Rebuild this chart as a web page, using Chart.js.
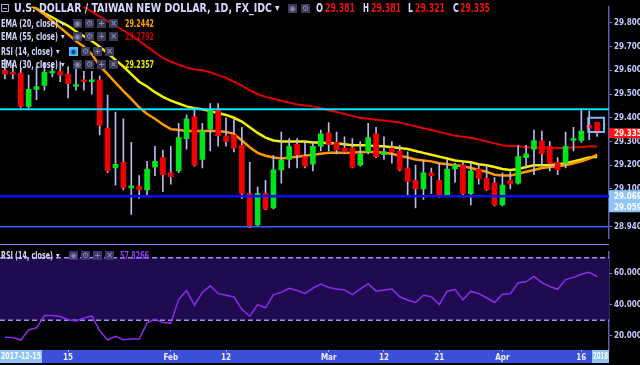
<!DOCTYPE html>
<html><head><meta charset="utf-8">
<script src="https://cdn.jsdelivr.net/npm/chart.js@4.4.1/dist/chart.umd.min.js"></script>
<style>
html,body{margin:0;padding:0;background:#000;width:640px;height:365px;overflow:hidden;position:relative;}
canvas{position:absolute;left:0;}
#c1{top:0;width:640px;height:245px;}
#c2{top:245px;width:640px;height:120px;}
.t{position:absolute;white-space:nowrap;transform-origin:0 50%;font-family:"DejaVu Sans Condensed","DejaVu Sans",sans-serif;}
.ic{position:absolute;width:9px;height:9px;font:bold 8px "DejaVu Sans",sans-serif;line-height:9px;text-align:center;}
</style></head><body>
<canvas id="c1" width="640" height="245"></canvas>
<canvas id="c2" width="640" height="120"></canvas>
<script>
// ---------- data ----------
const dates = ['2018-01-03','2018-01-04','2018-01-05','2018-01-08','2018-01-09','2018-01-10','2018-01-11','2018-01-12','2018-01-15','2018-01-16',
'2018-01-17','2018-01-18','2018-01-19','2018-01-22','2018-01-23','2018-01-24','2018-01-25','2018-01-26','2018-01-29','2018-01-30',
'2018-01-31','2018-02-01','2018-02-02','2018-02-05','2018-02-06','2018-02-07','2018-02-08','2018-02-09','2018-02-12','2018-02-13',
'2018-02-14','2018-02-15','2018-02-16','2018-02-19','2018-02-20','2018-02-21','2018-02-22','2018-02-23','2018-02-26','2018-02-27',
'2018-02-28','2018-03-01','2018-03-02','2018-03-05','2018-03-06','2018-03-07','2018-03-08','2018-03-09','2018-03-12','2018-03-13',
'2018-03-14','2018-03-15','2018-03-16','2018-03-19','2018-03-20','2018-03-21','2018-03-22','2018-03-23','2018-03-26','2018-03-27',
'2018-03-28','2018-03-29','2018-03-30','2018-04-02','2018-04-03','2018-04-04','2018-04-05','2018-04-06','2018-04-09','2018-04-10',
'2018-04-11','2018-04-12','2018-04-13','2018-04-16','2018-04-17','2018-04-18'];

const open = [29.600,29.592,29.588,29.448,29.520,29.536,29.588,29.596,29.584,29.532,
29.560,29.552,29.560,29.356,29.188,29.212,29.104,29.112,29.096,29.192,
29.232,29.168,29.176,29.312,29.404,29.224,29.352,29.440,29.324,29.328,
29.284,29.080,28.948,29.080,29.020,29.180,29.224,29.288,29.236,29.204,
29.280,29.336,29.296,29.272,29.272,29.200,29.256,29.332,29.244,29.272,
29.260,29.188,29.136,29.100,29.168,29.136,29.072,29.184,29.200,29.080,
29.184,29.144,29.124,29.032,29.136,29.124,29.232,29.268,29.304,29.280,
29.212,29.208,29.304,29.304,29.368,29.381];
const high = [29.648,29.628,29.608,29.580,29.616,29.632,29.620,29.636,29.616,29.616,
29.596,29.596,29.576,29.496,29.424,29.396,29.296,29.156,29.216,29.280,
29.264,29.280,29.376,29.412,29.444,29.376,29.460,29.460,29.400,29.396,
29.360,29.212,29.108,29.136,29.240,29.340,29.312,29.312,29.300,29.300,
29.348,29.380,29.340,29.320,29.312,29.300,29.376,29.360,29.320,29.300,
29.284,29.256,29.200,29.220,29.188,29.208,29.220,29.208,29.212,29.208,
29.204,29.204,29.148,29.168,29.172,29.284,29.284,29.348,29.344,29.300,
29.232,29.340,29.360,29.440,29.428,29.381];
const low = [29.564,29.564,29.444,29.440,29.476,29.516,29.572,29.552,29.484,29.516,
29.516,29.500,29.328,29.168,29.116,29.096,28.992,29.060,29.076,29.156,
29.088,29.120,29.168,29.268,29.196,29.188,29.260,29.280,29.280,29.256,
29.060,28.936,28.944,29.012,29.016,29.124,29.188,29.188,29.188,29.176,
29.260,29.260,29.248,29.248,29.188,29.196,29.248,29.232,29.224,29.208,
29.176,29.072,29.020,29.056,29.080,29.064,29.068,29.128,29.068,29.032,
29.120,29.092,29.028,29.028,29.100,29.120,29.188,29.160,29.196,29.176,
29.160,29.188,29.260,29.296,29.308,29.321];
const close = [29.584,29.584,29.448,29.520,29.532,29.592,29.596,29.580,29.544,29.540,
29.552,29.560,29.368,29.176,29.204,29.104,29.112,29.096,29.184,29.216,
29.160,29.152,29.316,29.396,29.200,29.344,29.432,29.324,29.300,29.272,
29.080,28.940,29.080,29.016,29.180,29.220,29.280,29.244,29.196,29.280,
29.332,29.288,29.264,29.256,29.192,29.248,29.316,29.236,29.256,29.256,
29.180,29.132,29.100,29.168,29.156,29.068,29.184,29.200,29.080,29.176,
29.144,29.096,29.032,29.116,29.120,29.236,29.248,29.304,29.248,29.208,
29.180,29.280,29.312,29.344,29.356,29.335];

const ema20 = [29.968,29.940,29.912,29.884,29.860,29.836,29.808,29.780,29.752,29.724,
29.700,29.668,29.620,29.584,29.548,29.512,29.480,29.444,29.416,29.396,
29.372,29.352,29.348,29.344,29.344,29.344,29.344,29.344,29.340,29.332,
29.304,29.276,29.252,29.240,29.232,29.228,29.232,29.236,29.240,29.244,
29.248,29.252,29.252,29.252,29.252,29.256,29.256,29.256,29.252,29.248,
29.240,29.232,29.224,29.220,29.216,29.208,29.204,29.200,29.196,29.188,
29.180,29.172,29.160,29.156,29.156,29.164,29.172,29.180,29.188,29.192,
29.196,29.200,29.208,29.216,29.228,29.2442];
const ema30 = [29.936,29.916,29.896,29.876,29.860,29.840,29.824,29.804,29.788,29.764,
29.744,29.724,29.700,29.672,29.644,29.616,29.584,29.552,29.532,29.508,
29.488,29.472,29.460,29.448,29.440,29.436,29.428,29.420,29.412,29.400,
29.384,29.360,29.336,29.316,29.304,29.300,29.300,29.300,29.300,29.296,
29.296,29.292,29.292,29.288,29.284,29.284,29.284,29.280,29.280,29.276,
29.272,29.268,29.260,29.252,29.244,29.236,29.228,29.220,29.216,29.212,
29.204,29.200,29.192,29.184,29.180,29.184,29.192,29.200,29.200,29.200,
29.204,29.208,29.216,29.224,29.232,29.2357];
const ema55 = [30.076,30.056,30.032,30.012,29.992,29.972,29.952,29.932,29.912,29.892,
29.868,29.848,29.828,29.808,29.788,29.768,29.748,29.724,29.700,29.676,
29.652,29.636,29.624,29.612,29.604,29.600,29.592,29.580,29.568,29.552,
29.536,29.516,29.500,29.488,29.480,29.472,29.464,29.456,29.452,29.448,
29.440,29.432,29.424,29.416,29.408,29.400,29.396,29.392,29.388,29.384,
29.380,29.372,29.364,29.356,29.348,29.340,29.332,29.324,29.320,29.316,
29.308,29.300,29.292,29.284,29.280,29.280,29.276,29.276,29.272,29.272,
29.272,29.272,29.276,29.276,29.280,29.2792];
const rsi14 = [19.2,19.0,17.4,23.8,25.2,33.0,33.0,32.4,30.4,29.6,
31.4,32.8,23.4,17.4,19.8,17.6,18.0,18.0,28.4,30.6,
28.6,28.2,43.4,49.0,39.6,47.8,52.0,47.0,46.0,45.0,
37.0,32.6,40.0,38.0,46.4,47.8,50.4,49.0,47.0,50.6,
53.2,51.0,50.0,49.4,46.4,50.0,53.4,48.6,49.4,50.0,
45.0,43.0,41.4,46.0,45.0,40.0,48.6,49.6,43.0,48.6,
47.0,44.4,41.4,46.6,47.0,54.0,54.6,58.0,54.0,51.6,
49.8,56.0,57.4,59.4,60.6,57.8266];

const priceTicks = [29.8,29.7,29.6,29.5,29.4,29.3,29.2,29.1,28.94];
const rsiTicks = [60,40,20];
const rsiBand = [70,30];
const xTickDates = ['2018-01-15','2018-02-01','2018-02-12','2018-03-01','2018-03-12','2018-03-21','2018-04-02','2018-04-16'];
const xTickText = ['15','Feb','12','Mar','12','21','Apr','16'];
const rangeLabels = ['2017-12-15','2018'];
const levelPrices = [29.436, 29.069, 28.94];
const boxPrices = [29.400, 29.340];
const boxIndex = [74, 76];
const lastPrice = 29.335;
const levelLabels = ['29.069','29.059'];
const legendValues = ['29.2442','29.2792','29.2357','57.8266'];

// ---------- styling ----------
const FONT = '"DejaVu Sans Condensed","DejaVu Sans",sans-serif';
const levelColors = ['#00e0ff','#0c0cff','#3a5cff'];
const levelWidths = [2, 2.5, 1.5];
const axisText = '#c8c8ff';
const labels = dates.concat(['']);

const mainDecor = {
  id: 'mainDecor',
  beforeDraw(ch) { const c = ch.ctx; c.save(); c.fillStyle = '#000'; c.fillRect(0, 0, ch.width, ch.height); c.restore(); },
  afterDatasetsDraw(ch) {
    const c = ch.ctx, ys = ch.scales.y, xs = ch.scales.x, a = ch.chartArea;
    c.save();
    levelPrices.forEach((p, k) => {
      const y = ys.getPixelForValue(p);
      c.strokeStyle = levelColors[k]; c.lineWidth = levelWidths[k];
      c.beginPath(); c.moveTo(0, y); c.lineTo(a.right, y); c.stroke();
    });
    const x0 = xs.getPixelForValue(boxIndex[0]) - 1, x1 = xs.getPixelForValue(boxIndex[1]) - 1;
    const y0 = ys.getPixelForValue(boxPrices[0]), y1 = ys.getPixelForValue(boxPrices[1]);
    c.strokeStyle = '#80b4ff'; c.lineWidth = 2; c.strokeRect(x0, y0, x1 - x0, y1 - y0);
    c.restore();
  },
  afterDraw(ch) {
    const c = ch.ctx, ys = ch.scales.y, a = ch.chartArea;
    c.save();
    c.fillStyle = '#8a8ae8'; c.fillRect(0, 244, a.right, 1);
    c.font = 'bold 8px ' + FONT; c.textBaseline = 'middle'; c.textAlign = 'left';
    const yl = ys.getPixelForValue(lastPrice);
    c.fillStyle = '#ff1414'; c.fillRect(a.right, yl - 5, 31, 10);
    c.fillStyle = '#fff'; c.fillText(lastPrice.toFixed(3), a.right + 5, yl + 0.5);
    const ys2 = ys.getPixelForValue(levelPrices[1]);
    c.fillStyle = '#8ec5fb'; c.fillRect(a.right, ys2 - 6, 31, 22);
    c.fillStyle = '#fff';
    c.fillText(levelLabels[0], a.right + 5, ys2 + 0.5);
    c.fillText(levelLabels[1], a.right + 5, ys2 + 11.5);
    c.restore();
  }
};

const rsiDecor = {
  id: 'rsiDecor',
  beforeDraw(ch) {
    const c = ch.ctx, a = ch.chartArea;
    c.save(); c.fillStyle = '#000'; c.fillRect(0, 0, ch.width, ch.height);
    c.fillStyle = '#3a50d8'; c.fillRect(0, a.bottom, a.right, 13);
    c.restore();
  },
  beforeDatasetsDraw(ch) {
    const c = ch.ctx, a = ch.chartArea, ys = ch.scales.y;
    const yt = ys.getPixelForValue(rsiBand[0]), yb = ys.getPixelForValue(rsiBand[1]);
    c.save();
    c.fillStyle = '#1f0a4f'; c.fillRect(0, yt, a.right, yb - yt);
    c.strokeStyle = '#a08cf5'; c.lineWidth = 1.5; c.setLineDash([5, 3]);
    [yt, yb].forEach(y => { c.beginPath(); c.moveTo(0, y); c.lineTo(a.right, y); c.stroke(); });
    c.restore();
  },
  afterDraw(ch) {
    const c = ch.ctx, a = ch.chartArea;
    c.save();
    c.font = 'bold 8px ' + FONT; c.textBaseline = 'middle';
    c.fillStyle = '#8ec5fb'; c.fillRect(0, a.bottom, 42, 13); c.fillRect(592, a.bottom, a.right - 592, 13);
    c.fillStyle = '#fff'; c.textAlign = 'left';
    c.fillText(rangeLabels[0], 1, a.bottom + 7, 40);
    c.fillText(rangeLabels[1], 593, a.bottom + 7, a.right - 594);
    c.restore();
  }
};

const bodyColors = open.map((o, i) => close[i] >= o ? '#00e41c' : '#f20000');
const axisFont = { family: FONT, weight: 'bold', size: 8 };

new Chart(document.getElementById('c1'), {
  type: 'bar',
  data: {
    labels,
    datasets: [
      { type: 'bar', data: open.map((o, i) => [o, close[i]]), backgroundColor: bodyColors, barThickness: 5, grouped: false, minBarLength: 2, borderWidth: 0, order: 0 },
      { type: 'bar', data: low.map((l, i) => [l, high[i]]), backgroundColor: '#b8b8f0', barThickness: 1, grouped: false, borderWidth: 0, order: 1 },
      { type: 'line', data: ema20, borderColor: '#ff9800', borderWidth: 2.5, pointRadius: 0, tension: 0, order: 2 },
      { type: 'line', data: ema30, borderColor: '#f2f200', borderWidth: 2.5, pointRadius: 0, tension: 0, order: 3 },
      { type: 'line', data: ema55, borderColor: '#e00000', borderWidth: 2, pointRadius: 0, tension: 0, order: 4 }
    ]
  },
  options: {
    responsive: false, animation: false, devicePixelRatio: 1,
    layout: { padding: { left: 1, right: 0, top: 0, bottom: 1 } },
    plugins: { legend: { display: false }, tooltip: { enabled: false } },
    scales: {
      x: { type: 'category', display: false, offset: true },
      y: {
        position: 'right', min: 28.892, max: 29.868,
        afterFit: s => { s.width = 31; },
        afterBuildTicks: s => { s.ticks = priceTicks.map(v => ({ value: v })); },
        ticks: { autoSkip: false, color: axisText, font: axisFont, padding: 2, callback: v => Number(v).toFixed(3) },
        grid: { drawOnChartArea: false, drawTicks: true, tickLength: 3, color: '#8080c8' },
        border: { display: true, color: '#5c5cb0', width: 1.5 }
      }
    }
  },
  plugins: [mainDecor]
});

new Chart(document.getElementById('c2'), {
  type: 'line',
  data: { labels, datasets: [{ data: rsi14, borderColor: '#8a2cf0', borderWidth: 1.5, pointRadius: 0, tension: 0 }] },
  options: {
    responsive: false, animation: false, devicePixelRatio: 1,
    layout: { padding: { left: 1, right: 0, top: 0, bottom: 0 } },
    plugins: { legend: { display: false }, tooltip: { enabled: false } },
    scales: {
      x: {
        type: 'category', offset: true,
        afterFit: s => { s.height = 15; },
        border: { display: false },
        grid: { drawOnChartArea: false, drawTicks: true, tickLength: 2, color: ctx => (ctx.tick && ctx.tick.label) ? '#9fb0ff' : 'rgba(0,0,0,0)' },
        ticks: {
          autoSkip: false, maxRotation: 0, minRotation: 0, padding: 1, color: '#eeeeff', font: axisFont,
          callback: function (v) { const k = xTickDates.indexOf(this.getLabelForValue(v)); return k >= 0 ? xTickText[k] : ''; }
        }
      },
      y: {
        position: 'right', min: 11.04, max: 73.73,
        afterFit: s => { s.width = 31; },
        afterBuildTicks: s => { s.ticks = rsiTicks.map(v => ({ value: v })); },
        ticks: { autoSkip: false, color: axisText, font: axisFont, padding: 2, callback: v => Number(v).toFixed(4) },
        grid: { drawOnChartArea: false, drawTicks: true, tickLength: 3, color: '#8080c8' },
        border: { display: true, color: '#5c5cb0', width: 1.5 }
      }
    }
  },
  plugins: [rsiDecor]
});

// ---------- text overlays ----------
function addText(txt, x, yc, size, color, width, weight) {
  const s = document.createElement('span');
  s.className = 't'; s.textContent = txt;
  s.style.left = x + 'px'; s.style.top = (yc - size / 2) + 'px';
  s.style.fontSize = size + 'px'; s.style.lineHeight = size + 'px';
  s.style.color = color; s.style.fontWeight = weight || 'bold';
  document.body.appendChild(s);
  if (width) { const w = s.getBoundingClientRect().width; s.style.transform = 'scaleX(' + (width / w) + ')'; }
  return s;
}
function addIcon(x, y, glyph, bg, fg) {
  const d = document.createElement('div');
  d.className = 'ic'; d.textContent = glyph;
  d.style.left = x + 'px'; d.style.top = y + 'px'; d.style.background = bg; d.style.color = fg;
  document.body.appendChild(d);
}
const LBL = '#d6d6ff';
// header
const box = document.createElement('div');
box.style.cssText = 'position:absolute;left:1px;top:4px;width:6px;height:6px;border:1px solid #a8a8d0;';
const bar = document.createElement('div');
bar.style.cssText = 'position:absolute;left:1px;top:2.5px;width:4px;height:1px;background:#a8a8d0;';
box.appendChild(bar); document.body.appendChild(box);
addText('U.S. DOLLAR / TAIWAN NEW DOLLAR, 1D, FX_IDC', 14, 8, 12.5, LBL, 258);
addText('▾', 275, 8, 10, LBL);
addIcon(288, 4, '◉', '#3a3a58', '#8c8cb0');
addIcon(301, 4, '⚙', '#3a3a58', '#8c8cb0');
addText('O', 316, 8.5, 12.5, LBL, 7);
addText('29.381', 325, 8.5, 12.5, '#ee1010', 30);
addText('H', 363, 8.5, 12.5, LBL, 6);
addText('29.381', 371, 8.5, 12.5, '#ee1010', 30);
addText('L', 408, 8.5, 12.5, LBL, 5);
addText('29.321', 415, 8.5, 12.5, '#ee1010', 30);
addText('C', 453, 8.5, 12.5, LBL, 6);
addText('29.335', 460, 8.5, 12.5, '#ee1010', 30);

const rows = [
  { name: 'EMA (20, close)', yc: 23.5, w: 57, val: legendValues[0], col: '#ffa000', ix: 73, hl: false },
  { name: 'EMA (55, close)', yc: 36.5, w: 57, val: legendValues[1], col: '#c80000', ix: 73, hl: false },
  { name: 'RSI (14, close)', yc: 51.5, w: 52, val: null, col: null, ix: 69, hl: true },
  { name: 'EMA (30, close)', yc: 64.5, w: 57, val: legendValues[2], col: '#eaea00', ix: 73, hl: false }
];
rows.forEach(r => {
  addText(r.name, 1, r.yc, 10, LBL, r.w);
  addText('▾', r.w + 4, r.yc, 8, LBL);
  const g = ['◉', '⚙', '+', '×'];
  g.forEach((gl, k) => {
    const hl = r.hl && k === 0;
    addIcon(r.ix + k * 12, r.yc - 4.5, gl, hl ? '#4cc4ff' : '#3a3a58', hl ? '#1a3a90' : '#8c8cb0');
  });
  if (r.val) addText(r.val, 125, r.yc, 10, r.col, 29);
});
// RSI pane legend
addText('RSI (14, close)', 1, 255.5, 10, LBL, 52);
addText('▾', 56, 255.5, 8, LBL);
['◉', '⚙', '+', '×'].forEach((gl, k) => addIcon(69 + k * 12, 251, gl, '#3e3270', '#8a82b8'));
addText(legendValues[3], 120, 255.5, 10, '#8e3cff', 29);
</script>
</body></html>
